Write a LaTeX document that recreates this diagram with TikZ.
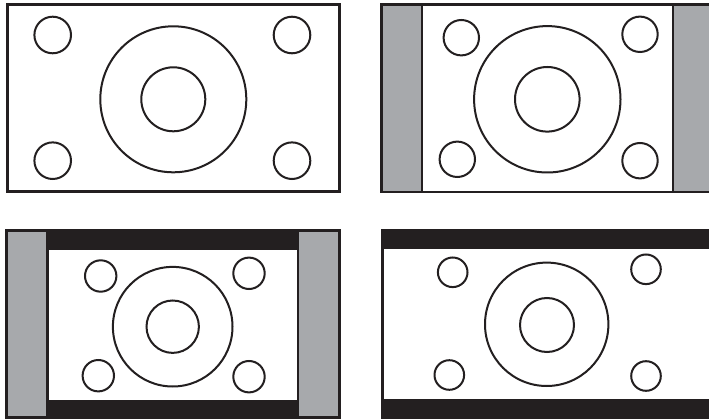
\documentclass[tikz,border=0pt]{standalone}
\begin{document}
\begin{tikzpicture}[x=1pt,y=-1pt,
  ring/.style={draw=ink,line width=2pt},
  inkfill/.style={fill=ink},
  greyfill/.style={fill=bargrey},
  whitefill/.style={fill=white}]
\definecolor{ink}{HTML}{231F20}
\definecolor{bargrey}{HTML}{A7A9AC}
\useasboundingbox (0,0) rectangle (709,419);
\clip (0,0) rectangle (709,419);
\fill[white] (0,0) rectangle (709,419);
% Panel 1
\fill[inkfill] (5.7,3) rectangle (341.3,192.7);
\fill[whitefill] (8.7,6) rectangle (338.4,189.6);
\draw[ring] (173.3,99.3) circle (73);
\draw[ring] (173.3,99.3) circle (32);
\draw[ring] (52.7,35) circle (18.3);
\draw[ring] (292,35) circle (18.3);
\draw[ring] (52.7,160.7) circle (18.3);
\draw[ring] (292,160.7) circle (18.3);
% Panel 2
\fill[inkfill] (380,2.7) rectangle (712,192.7);
\fill[greyfill] (382.7,5.7) rectangle (421,190.7);
\fill[whitefill] (423.3,5.7) rectangle (671.7,190.7);
\fill[greyfill] (673.7,5.7) rectangle (712,190.7);
\draw[ring] (547.3,99.3) circle (73.2);
\draw[ring] (547.3,99.3) circle (32.3);
\draw[ring] (461.3,37.7) circle (17.7);
\draw[ring] (640,34.3) circle (17.7);
\draw[ring] (457.3,159.3) circle (17.7);
\draw[ring] (640,160.7) circle (17.7);
% Panel 3
\fill[inkfill] (5,229.5) rectangle (341,421);
\fill[greyfill] (8.3,232.5) rectangle (46,416.3);
\fill[greyfill] (298.6,232.5) rectangle (337.7,416.3);
\fill[whitefill] (49.3,250) rectangle (296.7,400);
\draw[ring] (172.7,326.7) circle (59.8);
\draw[ring] (172.7,326.7) circle (26.2);
\draw[ring] (100.7,276) circle (15.7);
\draw[ring] (249,273.3) circle (15.7);
\draw[ring] (98.3,375.7) circle (15.7);
\draw[ring] (249,376.7) circle (15.7);
% Panel 4
\fill[inkfill] (380.5,229.3) rectangle (712,421);
\fill[whitefill] (383.5,249.3) rectangle (712,399.3);
\draw[ring] (546.7,324.3) circle (61.7);
\draw[ring] (547,325) circle (27);
\draw[ring] (452.7,272.3) circle (14.8);
\draw[ring] (646,269.3) circle (14.8);
\draw[ring] (449.3,375) circle (14.8);
\draw[ring] (646,376) circle (14.8);
\end{tikzpicture}
\end{document}
